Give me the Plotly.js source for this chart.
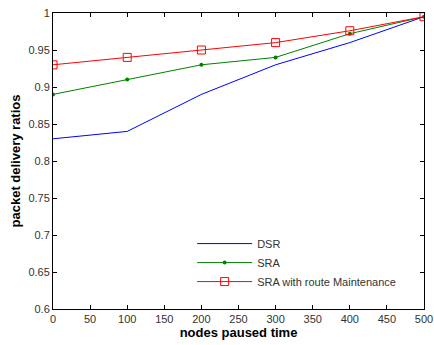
<!DOCTYPE html>
<html><head><meta charset="utf-8">
<script src="https://cdn.plot.ly/plotly-3.0.1.min.js"></script>
<style>html,body{margin:0;padding:0;background:#fff}#c{width:434px;height:345px}</style>
</head><body><div id="c"></div>
<script>
var pausedTime = [0, 100, 200, 300, 400, 500];
var dsr = [0.83, 0.84, 0.89, 0.93, 0.96, 0.995];
var sra = [0.89, 0.91, 0.93, 0.94, 0.972, 0.995];
var sraRM = [0.93, 0.94, 0.95, 0.96, 0.976, 0.995];
var seriesNames = ["DSR", "SRA", "SRA with route Maintenance"];
var xTicks = [0, 50, 100, 150, 200, 250, 300, 350, 400, 450, 500];
var yTicks = [0.6, 0.65, 0.7, 0.75, 0.8, 0.85, 0.9, 0.95, 1];

var traces = [
  {x: pausedTime, y: dsr, name: seriesNames[0], mode: "lines", line: {color: "#0000ff", width: 1}},
  {x: pausedTime, y: sra, name: seriesNames[1], mode: "lines+markers", line: {color: "#008000", width: 1},
   marker: {symbol: "circle", size: 4, color: "#008000"}},
  {x: pausedTime, y: sraRM, name: seriesNames[2], mode: "lines+markers", line: {color: "#ff0000", width: 1},
   marker: {symbol: "square-open", size: 8, color: "#ff0000", line: {width: 1}}}
];
var axisCommon = {showgrid: false, zeroline: false, showline: true, mirror: "ticks", linecolor: "#000", linewidth: 1,
  ticks: "inside", ticklen: 4, tickcolor: "#000", ticklabeloverflow: "allow",
  tickfont: {family: "Liberation Sans, Arial", size: 11, color: "#333"}};
var layout = {
  width: 434, height: 345,
  margin: {l: 53, r: 10, t: 13, b: 36},
  paper_bgcolor: "#fff", plot_bgcolor: "#fff",
  showlegend: true,
  legend: {x: 0.375, y: 0.27, xanchor: "left", yanchor: "top", bgcolor: "rgba(255,255,255,0)", borderwidth: 0,
    font: {family: "Liberation Sans, Arial", size: 11, color: "#333"}, tracegroupgap: 0, itemwidth: 55},
  xaxis: Object.assign({}, axisCommon, {range: [0, 500], tickvals: xTicks, ticktext: xTicks.map(String),
    title: {text: "nodes paused time", font: {family: "Liberation Sans, Arial", size: 13, color: "#000", weight: "bold"}, standoff: 2}}),
  yaxis: Object.assign({}, axisCommon, {range: [0.6, 1], tickvals: yTicks, ticktext: yTicks.map(String),
    title: {text: "packet delivery ratios", font: {family: "Liberation Sans, Arial", size: 13, color: "#000", weight: "bold"}, standoff: 4}})
};
Plotly.newPlot("c", traces, layout, {displayModeBar: false, staticPlot: true});
</script></body></html>
